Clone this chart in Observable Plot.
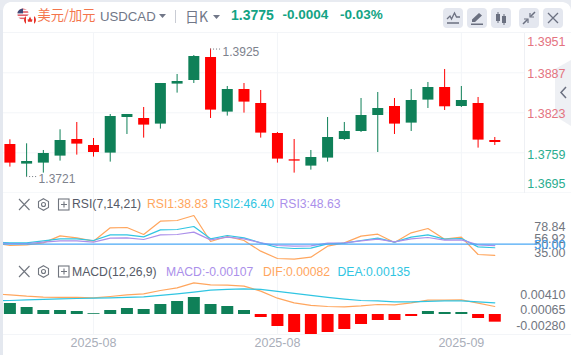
<!DOCTYPE html>
<html><head><meta charset="utf-8">
<script src="https://cdn.jsdelivr.net/npm/d3@7"></script>
<script src="https://cdn.jsdelivr.net/npm/@observablehq/plot@0.6"></script>
<style>
html,body{margin:0;padding:0;background:#fff;overflow:hidden}
#root{position:relative;isolation:isolate;width:571px;height:355px;overflow:hidden;font-family:"Liberation Sans",Arial,sans-serif}
#head{height:33px;box-sizing:border-box;border-bottom:1px solid #f3f5f8}
#root svg.pane{display:block}
.t{position:absolute;white-space:nowrap;line-height:16px;font-size:12.2px}
.btn{position:absolute;top:8px;width:20px;height:20px;background:#e4e7ef;border-radius:4px}
.ic{position:absolute}
</style></head><body>
<div id="root">
<div id="head"></div>
<svg class="ic" style="left:555px;top:60px;z-index:-1" width="16" height="66"><path d="M16 0L0 9V56L16 66Z" fill="#eef0f4"/><path d="M11 32L6 37.500 11 43" transform="translate(0,-5)" fill="none" stroke="#6b7080" stroke-width="1.500"/></svg>
<div id="panes"></div>
<div style="position:absolute;left:0;top:0;width:3px;height:355px;background:#e4e8ef"></div>
<svg class="ic" style="left:0;top:0" width="571" height="10"><path d="M0 0H571V10Q570 3 563 2H10Q4 3 3 10H0Z" fill="#e8ebf1"/></svg>

<svg class="ic" style="left:16px;top:7px" width="20" height="20" viewBox="0 0 20 20">
<defs><clipPath id="us"><circle cx="7" cy="7" r="5.6"/></clipPath></defs>
<g clip-path="url(#us)"><rect width="14" height="14" fill="#fff"/><rect y="1" width="14" height="1.6" fill="#e0606c"/><rect y="4.2" width="14" height="1.6" fill="#e0606c"/><rect y="7.4" width="14" height="1.6" fill="#e0606c"/><rect y="10.6" width="14" height="1.6" fill="#e0606c"/><rect width="7" height="6.4" fill="#3f4a78"/></g>
<circle cx="14" cy="13" r="5" fill="#fff"/><path d="M10 9a5 5 0 0 0 0 8zM18 9a5 5 0 0 1 0 8z" fill="#e8332a"/><path d="M14 9.6l1.4 3 1-.4-.4 2.6h-4l-.4-2.6 1 .4z" fill="#e8332a"/></svg>
<span class="t" style="left:37.5px;top:7px;font-size:13.2px;font-family:'Noto Sans CJK SC';color:#f4754c">美元/加元</span>
<span class="t" style="left:100px;top:9px;font-size:13.2px;color:#717788">USDCAD</span>
<svg class="ic" style="left:159px;top:14px" width="8" height="5"><path d="M0 0H7L3.5 4Z" fill="#717788"/></svg>
<div class="ic" style="left:175px;top:10px;width:1px;height:13px;background:#c9ccd4"></div>
<span class="t" style="left:185px;top:8px;font-size:14px;font-family:'Noto Sans CJK SC';color:#717788">日K</span>
<svg class="ic" style="left:213px;top:15px" width="8" height="5"><path d="M0 0H7L3.5 4Z" fill="#717788"/></svg>
<span class="t" style="left:231px;top:7px;font-size:14px;font-weight:bold;color:#13a384">1.3775</span>
<span class="t" style="left:282.5px;top:7px;font-size:13.5px;font-weight:bold;color:#13a384">-0.0004</span>
<span class="t" style="left:340px;top:7px;font-size:13.5px;font-weight:bold;color:#13a384">-0.03%</span>

<div class="btn" style="left:443px"><svg width="20" height="20" fill="none" stroke="#6b7080" stroke-width="1.3"><path d="M4 11L7 8l1.500 3 3-6 2 4H17M4 15H16"/></svg></div>
<div class="btn" style="left:467px"><svg width="20" height="20" fill="#6b7080"><path d="M5 11.500L12 5l3 2.500-7 6.500H5zM4 15.500H16V17H4z"/></svg></div>
<div class="btn" style="left:491px"><svg width="20" height="20" fill="#6b7080"><rect x="5" y="6" width="4" height="7"/><rect x="6.500" y="4" width="1" height="11"/><rect x="11" y="8" width="4" height="7"/><rect x="12.500" y="6" width="1" height="11"/></svg></div>
<div class="btn" style="left:519px"><svg width="20" height="20" fill="none" stroke="#6b7080" stroke-width="1.500"><path d="M16 4L11.500 8.500M4 16L8.500 11.500"/><path d="M11 5v4h4M5 11h4v4" stroke-width="1.200"/></svg></div>
<div class="btn" style="left:543px"><svg width="20" height="20" fill="none" stroke="#6b7080" stroke-width="1.300"><path d="M5 5L15 15M15 5L5 15"/></svg></div>

<svg class="ic" style="left:17px;top:198px" width="56" height="13" fill="none" stroke="#71767f" stroke-width="1.100"><path d="M2 1L12.500 12M12.500 1L2 12"/><path d="M26.500 .7L31.500 3.500V9.500L26.500 12.300 21.500 9.500V3.500Z"/><circle cx="26.500" cy="6.500" r="2"/><rect x="41.500" y="1" width="10.500" height="11"/><path d="M44 6.500H50M47 3.500V9.500"/></svg>
<span class="t" style="left:72px;top:196px;color:#555a66">RSI(7,14,21)</span>
<span class="t" style="left:147px;top:196px;color:#ffa65e">RSI1:38.83</span>
<span class="t" style="left:213px;top:196px;color:#30c5e2">RSI2:46.40</span>
<span class="t" style="left:279.500px;top:196px;color:#ab90ea">RSI3:48.63</span>
<svg class="ic" style="left:17px;top:265px" width="56" height="13" fill="none" stroke="#71767f" stroke-width="1.100"><path d="M2 1L12.500 12M12.500 1L2 12"/><path d="M26.500 .7L31.500 3.500V9.500L26.500 12.300 21.500 9.500V3.500Z"/><circle cx="26.500" cy="6.500" r="2"/><rect x="41.500" y="1" width="10.500" height="11"/><path d="M44 6.500H50M47 3.500V9.500"/></svg>
<span class="t" style="left:72px;top:264px;color:#555a66">MACD(12,26,9)</span>
<span class="t" style="left:166px;top:264px;color:#ab90ea">MACD:-0.00107</span>
<span class="t" style="left:263px;top:264px;color:#ffa65e">DIF:0.00082</span>
<span class="t" style="left:337.500px;top:264px;color:#30c5e2">DEA:0.00135</span>
</div>
<script>
// Candles
const open  = [1.37723,1.37409,1.37425,1.37537,1.37803,1.37707,1.37585,1.38155,1.38139,1.38049,1.38689,1.38747,1.39115,1.38241,1.38603,1.38379,1.37899,1.37478,1.37377,1.37505,1.37803,1.37931,1.38187,1.38331,1.38065,1.38433,1.38635,1.38331,1.38379,1.37787];
const close = [1.37425,1.37451,1.37579,1.37787,1.37729,1.37595,1.38171,1.38203,1.38033,1.38699,1.38731,1.39131,1.38273,1.38603,1.38401,1.37905,1.37489,1.37457,1.37515,1.37835,1.37931,1.38187,1.38299,1.38049,1.38427,1.38635,1.38326,1.38427,1.37793,1.37755];
const high  = [1.37798,1.37734,1.37627,1.37958,1.38075,1.37819,1.38203,1.38203,1.38315,1.38699,1.38843,1.39147,1.3925,1.38651,1.38699,1.38587,1.37915,1.37803,1.37627,1.38155,1.38075,1.38459,1.38555,1.38459,1.38603,1.38715,1.38923,1.38651,1.38475,1.37835];
const low   = [1.37361,1.3721,1.37265,1.37457,1.37553,1.37521,1.37441,1.37883,1.37825,1.37969,1.38545,1.38699,1.38139,1.38177,1.38225,1.37825,1.37425,1.37265,1.37313,1.37441,1.37787,1.37915,1.37595,1.37883,1.37931,1.38299,1.38267,1.38315,1.37665,1.37707];
const priceTicks = [1.3951,1.3887,1.3823,1.3759,1.3695];
const dateTickIndex = [5,16,27];
const dateTickLabels = ["2025-08","2025-08","2025-09"];
// RSI series, first value lies one session before the first candle
const rsi1 = [51.33,48.67,49.33,51.33,58.33,56.33,53,66.33,66.67,59.67,73,73.67,78.67,52.67,57.67,53.67,43,35.67,35,37,48,51.33,58,60,51.67,61.33,65.67,55,57,39.67,38.83];
const rsi2 = [52,51.33,51.33,53.33,55.33,55.33,53.67,59.33,59.33,57.33,64.33,64.67,67.67,55.33,58.67,56.33,51.33,46.67,45.67,46,50.33,51,53.67,56,52,57,59.33,55,55.67,47.33,46.4];
const rsi3 = [51.33,50.67,50.67,52,53.33,53.33,52,56,56.33,54.67,59.33,59.67,62,54.33,57,55.33,51.33,48.67,48,48.33,51,51.33,53.33,55,52.33,55.33,56.67,54,54.33,49.33,48.63];
// MACD series, DIF and DEA start one session before the first candle
const dif = [.00258,.00246,.00229,.00217,.00213,.00213,.00208,.00225,.00246,.00258,.003,.00333,.00396,.00371,.00367,.00354,.00292,.00204,.00146,.00113,.001,.00096,.00108,.00125,.00121,.00146,.00179,.00179,.00183,.00142,.001];
const dea = [.00171,.00175,.00183,.00188,.00196,.002,.00204,.00208,.00213,.00221,.00238,.00258,.00279,.00304,.00313,.00321,.00313,.00288,.00263,.00238,.00213,.00192,.00175,.00171,.00158,.00158,.00163,.00171,.00171,.00158,.00146];
const macd = [.001375,.000875,.0005,.0005,.000375,.0001,.0005,.00075,.000625,.00125,.001625,.002125,.00125,.001,.0005,-.000375,-.0015,-.00225,-.0025,-.00225,-.001875,-.00125,-.00075,-.00075,-.00025,.000375,.00025,.00025,-.0005,-.00096];

const GREEN="#0f8058", RED="#ff0000", GRID="#f3f5f8", GRAY="#71767f";
const ORANGE="#ffa65e", CYAN="#30c5e2", PURPLE="#ab90ea", BLUE="#4aa8f5";
const FONT="Liberation Sans, Arial, sans-serif";
const xScale = {axis:null, domain:[0,29], range:[9.4,494.3]};
const base = {width:571, marginLeft:0, marginTop:0, marginBottom:0, style:{background:"transparent",fontFamily:FONT,overflow:"hidden"}, className:"pane"};
const idx = d3.range(30);
const isUp = i => close[i] >= open[i];
const label = (v,dy,fill,text) => Plot.text([v],{y:d=>d,text:()=>text,frameAnchor:"right",textAnchor:"end",dx:0,dy,fill,fontSize:12.5});
const priceLabel = (v,dy,fill) => Plot.text([v],{y:d=>d,text:d=>d.toFixed(4),frameAnchor:"right",textAnchor:"end",dx:41,dy,fill,fontSize:12.5});
const wick = (ids,c) => Plot.ruleX(ids,{x:i=>i,y1:i=>low[i],y2:i=>high[i],stroke:c,strokeWidth:1});
const body = (ids,c) => Plot.ruleX(ids,{x:i=>i,y1:i=>open[i],y2:i=>close[i],stroke:c,strokeWidth:11});

const pricePane = Plot.plot({...base, height:160, marginRight:47, x:xScale,
  y:{axis:null, domain:[1.3695,1.3951], range:[159.3,-0.7]},
  marks:[
    Plot.ruleY(priceTicks.slice(1,4),{stroke:GRID}),
    Plot.ruleY([priceTicks[4]],{x1:()=>-1,x2:()=>35,stroke:GRID}),
    Plot.ruleX(dateTickIndex,{x:d=>d,stroke:GRID}),
    Plot.frame({anchor:"right",stroke:"#eef0f4"}),
    wick(idx.filter(isUp),GREEN), wick(idx.filter(i=>!isUp(i)),RED),
    body(idx.filter(isUp),GREEN), body(idx.filter(i=>!isUp(i)),RED),
    Plot.ruleY([1.3925],{x1:()=>12,x2:()=>12.66,stroke:GRAY,strokeDasharray:"1 2"}),
    Plot.ruleY([1.3721],{x1:()=>1,x2:()=>1.66,stroke:GRAY,strokeDasharray:"1 2"}),
    Plot.text([1.3925],{x:()=>12,y:d=>d,text:d=>d.toFixed(4),textAnchor:"start",dx:12,dy:3,fill:"#7d828d",fontSize:12}),
    Plot.text([1.3721],{x:()=>1,y:d=>d,text:d=>d.toFixed(4),textAnchor:"start",dx:12,dy:3,fill:"#7d828d",fontSize:12}),
    priceLabel(priceTicks[0],8.7,"#e4737f"),
    priceLabel(priceTicks[1],1,"#e4737f"),
    priceLabel(priceTicks[2],1,"#e4737f"),
    priceLabel(priceTicks[3],2,"#2bad90"),
    priceLabel(priceTicks[4],-9,"#2bad90")
  ]});

const rsiX = (d,i)=>i-1;
const rsiPane = Plot.plot({...base, height:67, marginRight:6, x:xScale,
  y:{axis:null, domain:[0,100], range:[100.67,0.67]},
  marks:[
    Plot.ruleY([33.7],{x1:()=>-1,x2:()=>35,stroke:GRID}),
    Plot.ruleX(dateTickIndex,{x:d=>d,stroke:GRID}),
    Plot.lineY(rsi1,{x:rsiX,y:d=>d,stroke:ORANGE,strokeWidth:1.2}),
    Plot.lineY(rsi2,{x:rsiX,y:d=>d,stroke:CYAN,strokeWidth:1.2}),
    Plot.lineY(rsi3,{x:rsiX,y:d=>d,stroke:PURPLE,strokeWidth:1.2}),
    Plot.ruleY([50],{x1:()=>-1,x2:()=>31.45,stroke:BLUE,strokeWidth:1.2}),
    label(78.84,11.6,GRAY,"78.84"),
    label(56.92,1.5,GRAY,"56.92"),
    label(50,0.7,GRAY,"50.00"),
    label(35,-6,GRAY,"35.00"),
    label(50,0.7,BLUE,"50.00")
  ]});

const macdX = (d,i)=>i-1;
const macdPane = Plot.plot({...base, height:95, marginRight:6, x:xScale,
  y:{axis:null, domain:[-.00675,.00675], range:[108,0]},
  marks:[
    Plot.ruleY([-.0025],{x1:()=>-1,x2:()=>35,stroke:GRID}),
    Plot.ruleX(dateTickIndex,{x:d=>d,y1:()=>-.0025,y2:()=>.00675,stroke:GRID}),
    Plot.ruleX(idx.filter(i=>macd[i]>=0),{x:i=>i,y1:()=>0,y2:i=>macd[i],stroke:GREEN,strokeWidth:12}),
    Plot.ruleX(idx.filter(i=>macd[i]<0),{x:i=>i,y1:()=>0,y2:i=>macd[i],stroke:RED,strokeWidth:12}),
    Plot.lineY(dif,{x:macdX,y:d=>d,stroke:ORANGE,strokeWidth:1.2}),
    Plot.lineY(dea,{x:macdX,y:d=>d,stroke:CYAN,strokeWidth:1.2}),
    label(.0041,13,GRAY,"0.00410"),
    label(.00065,0.5,GRAY,"0.00065"),
    label(-.0028,-11.2,GRAY,"-0.00280"),
    Plot.text(dateTickIndex,{x:d=>d,y:()=>-.0036,text:(d,i)=>dateTickLabels[i],fill:"#a9aeb9",fontSize:12.5,textAnchor:"middle"})
  ]});

const panes=document.getElementById("panes");
[pricePane,rsiPane,macdPane].forEach(p=>{p.style.display="block";panes.appendChild(p);});
</script>
</body></html>
